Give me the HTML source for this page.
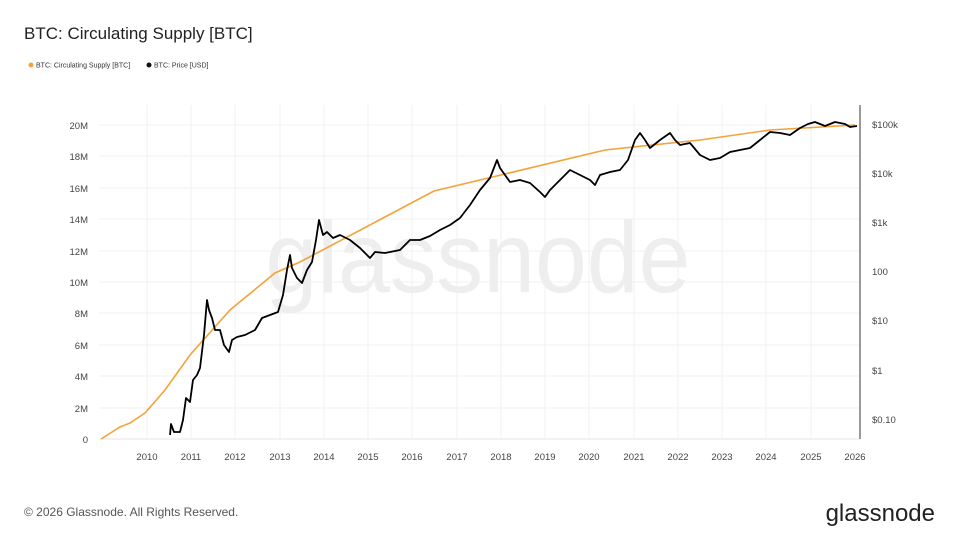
<!DOCTYPE html>
<html><head><meta charset="utf-8"><style>
body{margin:0;background:#fff;font-family:"Liberation Sans",sans-serif;}
</style></head><body>
<svg width="960" height="540" xmlns="http://www.w3.org/2000/svg" font-family="Liberation Sans, sans-serif">
<rect width="960" height="540" fill="#fff"/>
<text x="24" y="39" font-size="17" fill="#222">BTC: Circulating Supply [BTC]</text>
<circle cx="31" cy="65" r="2.5" fill="#f2a33a"/>
<text x="36" y="67.5" font-size="7" fill="#333">BTC: Circulating Supply [BTC]</text>
<circle cx="149" cy="65" r="2.5" fill="#111"/>
<text x="154" y="67.5" font-size="7" fill="#333">BTC: Price [USD]</text>
<g stroke="#f0f0f0" stroke-width="1">
<line x1="99" y1="125" x2="860" y2="125"/><line x1="99" y1="156" x2="860" y2="156"/><line x1="99" y1="188" x2="860" y2="188"/><line x1="99" y1="219" x2="860" y2="219"/><line x1="99" y1="251" x2="860" y2="251"/><line x1="99" y1="282" x2="860" y2="282"/><line x1="99" y1="313" x2="860" y2="313"/><line x1="99" y1="345" x2="860" y2="345"/><line x1="99" y1="376" x2="860" y2="376"/><line x1="99" y1="408" x2="860" y2="408"/>
<line x1="147" y1="105" x2="147" y2="439"/><line x1="191" y1="105" x2="191" y2="439"/><line x1="235" y1="105" x2="235" y2="439"/><line x1="280" y1="105" x2="280" y2="439"/><line x1="324" y1="105" x2="324" y2="439"/><line x1="368" y1="105" x2="368" y2="439"/><line x1="412" y1="105" x2="412" y2="439"/><line x1="457" y1="105" x2="457" y2="439"/><line x1="501" y1="105" x2="501" y2="439"/><line x1="545" y1="105" x2="545" y2="439"/><line x1="589" y1="105" x2="589" y2="439"/><line x1="634" y1="105" x2="634" y2="439"/><line x1="678" y1="105" x2="678" y2="439"/><line x1="722" y1="105" x2="722" y2="439"/><line x1="766" y1="105" x2="766" y2="439"/><line x1="811" y1="105" x2="811" y2="439"/>
</g>
<line x1="99" y1="439" x2="860" y2="439" stroke="#e6e6e6"/>
<line x1="860" y1="105" x2="860" y2="439" stroke="#333" stroke-width="1"/>
<text x="478" y="292" font-size="100" fill="#eeeeee" text-anchor="middle" textLength="425" lengthAdjust="spacingAndGlyphs">glassnode</text>
<g font-size="9.5" fill="#444" text-anchor="end">
<text x="88" y="129">20M</text><text x="88" y="160">18M</text><text x="88" y="192">16M</text><text x="88" y="223">14M</text><text x="88" y="255">12M</text><text x="88" y="286">10M</text><text x="88" y="317">8M</text><text x="88" y="349">6M</text><text x="88" y="380">4M</text><text x="88" y="412">2M</text><text x="88" y="443">0</text>
</g>
<g font-size="9.5" fill="#444">
<text x="872" y="128">$100k</text><text x="872" y="177">$10k</text><text x="872" y="226">$1k</text><text x="872" y="275">100</text><text x="872" y="324">$10</text><text x="872" y="374">$1</text><text x="872" y="423">$0.10</text>
</g>
<g font-size="9.5" fill="#444" text-anchor="middle">
<text x="147" y="460">2010</text><text x="191" y="460">2011</text><text x="235" y="460">2012</text><text x="280" y="460">2013</text><text x="324" y="460">2014</text><text x="368" y="460">2015</text><text x="412" y="460">2016</text><text x="457" y="460">2017</text><text x="501" y="460">2018</text><text x="545" y="460">2019</text><text x="589" y="460">2020</text><text x="634" y="460">2021</text><text x="678" y="460">2022</text><text x="722" y="460">2023</text><text x="766" y="460">2024</text><text x="811" y="460">2025</text><text x="855" y="460">2026</text>
</g>
<polyline fill="none" stroke="#f2a33a" stroke-width="1.6" points="101,439 120,427 130,423 145,413 165,390 190,355 230,310 275,273 300,262 434,191 605,150 700,140 770,130 855,125"/>
<polyline fill="none" stroke="#000" stroke-width="1.8" stroke-linejoin="round" points="170,435 171,424 174,432 180,432 183,420 186,398 190,402 193,380 197,375 200,368 204,335 207,300 209,310 212,318 215,330 220,330 224,345 229,352 232,340 237,337 245,335 255,330 262,318 270,315 278,312 283,295 287,270 290,255 292,268 297,278 302,283 307,270 312,262 316,240 319,220 323,235 327,232 333,238 340,235 350,240 360,248 370,258 375,252 385,253 400,250 410,240 420,240 430,236 440,230 450,225 460,218 470,205 480,190 490,178 497,160 500,168 505,175 510,182 520,180 530,183 540,192 545,197 550,190 560,180 570,170 580,175 590,180 595,185 600,175 610,172 620,170 628,160 635,140 640,133 645,140 650,148 660,140 670,133 675,140 680,145 690,143 700,155 710,160 720,158 730,152 740,150 750,148 760,140 770,132 780,133 790,135 800,128 808,124 815,122 825,126 835,122 845,124 850,127 857,126"/>
<text x="24" y="516" font-size="12" fill="#555">© 2026 Glassnode. All Rights Reserved.</text>
<text x="935" y="521" font-size="24" fill="#222" text-anchor="end">glassnode</text>
</svg>
</body></html>
